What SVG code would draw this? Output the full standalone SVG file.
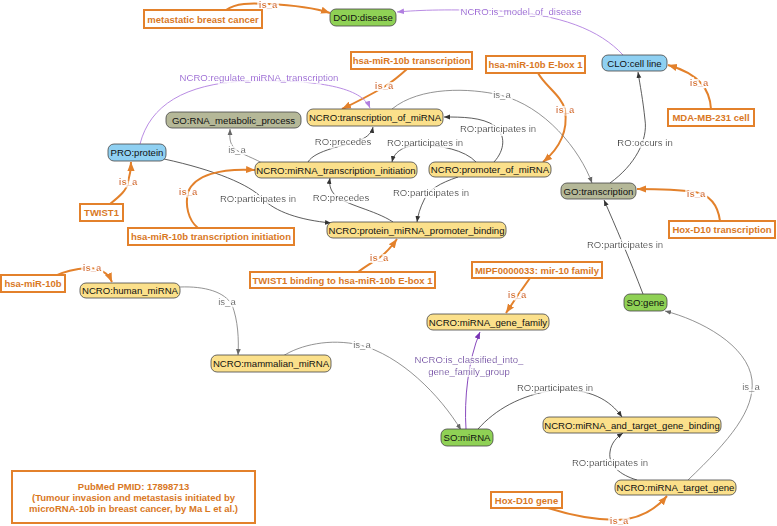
<svg xmlns="http://www.w3.org/2000/svg" width="777" height="526" viewBox="0 0 777 526">
<style>
text{font-family:"Liberation Sans",Arial,sans-serif}
.n{stroke:#444;stroke-width:0.8}
.y{fill:#fbe08b}
.g{fill:#8fd155}
.b{fill:#8fd0f2}
.k{fill:#b5b898}
.nt{font-size:9.6px;fill:#111;text-anchor:middle}
.o{fill:#fff;stroke:#e3812b;stroke-width:2}
.ot{font-size:9.5px;font-weight:bold;fill:#d9781f;text-anchor:middle}
.e{fill:none;stroke:#333;stroke-width:0.8}
.ei{fill:none;stroke:#777;stroke-width:0.8}
.eo{fill:none;stroke:#e3812b;stroke-width:2}
.ep{fill:none;stroke:#b17fe0;stroke-width:0.9}
.ed{fill:none;stroke:#7a35b5;stroke-width:0.9}
.lb,.li,.lo,.lp,.ld{font-size:9.6px;text-anchor:middle;filter:url(#halo)}
.lb{fill:#222}
.li{fill:#555}
.lo{font-size:9.5px;font-weight:bold;fill:#da7a22}
.lp{fill:#9a55d6}
.ld{fill:#7030a8}
</style>
<defs>
<filter id="halo" x="-20%" y="-50%" width="140%" height="200%">
<feMorphology in="SourceAlpha" operator="dilate" radius="2" result="d"/>
<feFlood flood-color="#ffffff"/>
<feComposite in2="d" operator="in" result="w"/>
<feMerge><feMergeNode in="w"/><feMergeNode in="SourceGraphic"/></feMerge>
</filter>
<marker id="ab" viewBox="0 0 10 10" refX="10" refY="5" markerWidth="6" markerHeight="6" orient="auto" markerUnits="userSpaceOnUse"><path d="M0,1 L10,5 L0,9 z" fill="#333"/></marker>
<marker id="ag" viewBox="0 0 10 10" refX="10" refY="5" markerWidth="6" markerHeight="6" orient="auto" markerUnits="userSpaceOnUse"><path d="M0,1 L10,5 L0,9 z" fill="#666"/></marker>
<marker id="ao" viewBox="0 0 10 10" refX="10" refY="5" markerWidth="9" markerHeight="9" orient="auto" markerUnits="userSpaceOnUse"><path d="M0,1 L10,5 L0,9 z" fill="#e3812b"/></marker>
<marker id="ap" viewBox="0 0 10 10" refX="10" refY="5" markerWidth="7" markerHeight="7" orient="auto" markerUnits="userSpaceOnUse"><path d="M0,1 L10,5 L0,9 z" fill="#b17fe0"/></marker>
<marker id="ad" viewBox="0 0 10 10" refX="10" refY="5" markerWidth="7" markerHeight="7" orient="auto" markerUnits="userSpaceOnUse"><path d="M0,1 L10,5 L0,9 z" fill="#7a35b5"/></marker>
</defs>
<rect width="777" height="526" fill="#fff"/>

<g id="connectors">
<path class="eo" d="M226 10 C236 3 250 3 268 4 C290 5 315 8 330 13" marker-end="url(#ao)"/>
<text class="lo" x="268" y="8">is_a</text>
<path class="ep" d="M623 55 C600 30 560 14 500 11 C450 9 420 10 397 12" marker-end="url(#ap)"/>
<text class="lp" x="521" y="15">NCRO:is_model_of_disease</text>
<path class="eo" d="M711 109 C710 90 700 74 668 65" marker-end="url(#ao)"/>
<text class="lo" x="699" y="86">is_a</text>
<path class="e" d="M610 183 C635 165 648 140 645 120 C643 100 640 85 638 72" marker-end="url(#ab)"/>
<text class="lb" x="645" y="146">RO:occurs in</text>
<path class="eo" d="M538 73 C545 86 562 96 565 110 C568 130 560 148 543 162" marker-end="url(#ao)"/>
<text class="lo" x="565" y="113">is_a</text>
<path class="eo" d="M407 69 Q395 80 384 87 Q365 98 342 109" marker-end="url(#ao)"/>
<text class="lo" x="384" y="89">is_a</text>
<path class="ep" d="M140 144 C150 105 185 84 245 81 C320 79 362 88 370 108" marker-end="url(#ap)"/>
<text class="lp" x="259" y="81">NCRO:regulate_miRNA_transcription</text>
<path class="ei" d="M392 109 C420 86 470 88 500 95 C545 106 580 150 592 183" marker-end="url(#ag)"/>
<text class="li" x="502" y="98">is_a</text>
<path class="e" d="M494 162 C505 150 506 135 495 126 C482 117 462 117 444 117" marker-end="url(#ab)"/>
<text class="lb" x="498" y="132">RO:participates in</text>
<path class="e" d="M308 162 C315 150 345 146 360 140 C368 137 372 132 373 127" marker-end="url(#ab)"/>
<text class="lb" x="343" y="145">RO:precedes</text>
<path class="e" d="M476 162 C465 150 440 145 420 145 C401 146 394 153 392 162" marker-end="url(#ab)"/>
<text class="lb" x="425" y="146">RO:participates in</text>
<path class="ei" d="M262 163 C250 156 236 153 232 145 C229 140 230 134 230 129" marker-end="url(#ag)"/>
<text class="li" x="237" y="153">is_a</text>
<path class="e" d="M164 159 C215 170 250 185 262 198 C275 212 300 220 331 223" marker-end="url(#ab)"/>
<text class="lb" x="258" y="202">RO:participates in</text>
<path class="e" d="M393 222 C375 210 345 205 335 195 C330 190 329 184 330 178" marker-end="url(#ab)"/>
<text class="lb" x="341" y="201">RO:precedes</text>
<path class="e" d="M458 177 C440 183 428 190 424 200 C420 208 418 215 417 222" marker-end="url(#ab)"/>
<text class="lb" x="431" y="196">RO:participates in</text>
<path class="eo" d="M110 204 C120 196 127 190 128 182 C130 175 131 168 131 162" marker-end="url(#ao)"/>
<text class="lo" x="128" y="185">is_a</text>
<path class="eo" d="M198 228 C188 220 185 205 188 192 C195 175 220 168 255 170" marker-end="url(#ao)"/>
<text class="lo" x="188" y="195">is_a</text>
<path class="eo" d="M358 272 C366 266 373 262 379 258 C386 253 392 246 397 239" marker-end="url(#ao)"/>
<text class="lo" x="379" y="261">is_a</text>
<path class="eo" d="M720 221 C718 205 710 195 695 192 C675 189 655 189 637 189" marker-end="url(#ao)"/>
<text class="lo" x="696" y="197">is_a</text>
<path class="e" d="M643 294 C630 260 615 225 604 200" marker-end="url(#ab)"/>
<text class="lb" x="625" y="248">RO:participates in</text>
<path class="eo" d="M530 278 L518 295 L506 313" marker-end="url(#ao)"/>
<text class="lo" x="517" y="298">is_a</text>
<path class="eo" d="M55 276 C65 271 75 269 88 268 C100 268 108 273 112 282" marker-end="url(#ao)"/>
<text class="lo" x="92" y="271">is_a</text>
<path class="ei" d="M180 287 C205 286 225 292 232 305 C238 320 239 340 238 355" marker-end="url(#ag)"/>
<text class="li" x="227" y="305">is_a</text>
<path class="ei" d="M283 356 C300 345 330 338 360 345 C400 355 440 395 461 430" marker-end="url(#ag)"/>
<text class="li" x="362" y="348">is_a</text>
<path class="ed" d="M466 429 C464 400 468 360 480 332" marker-end="url(#ad)"/>
<text class="ld" x="469" y="363">NCRO:is_classified_into_</text>
<text class="ld" x="469" y="375">gene_family_group</text>
<path class="e" d="M478 429 C495 410 520 395 555 390 C590 388 610 400 622 417" marker-end="url(#ab)"/>
<text class="lb" x="555" y="391">RO:participates in</text>
<path class="e" d="M637 480 C620 475 608 465 610 452 C611 443 617 437 623 433" marker-end="url(#ab)"/>
<text class="lb" x="610" y="466">RO:participates in</text>
<path class="ei" d="M688 480 C730 440 755 410 752 380 C748 345 700 320 665 311" marker-end="url(#ag)"/>
<text class="li" x="751" y="390">is_a</text>
<path class="eo" d="M548 508 C570 515 595 520 618 520 C640 519 655 510 667 496" marker-end="url(#ao)"/>
<text class="lo" x="619" y="524">is_a</text>
</g>

<g id="n-doid"><rect class="n g" x="330" y="9" width="66" height="17" rx="6"/><text class="nt" x="363" y="21">DOID:disease</text></g>
<g id="n-clo"><rect class="n b" x="602" y="55" width="65" height="16" rx="6"/><text class="nt" x="634.5" y="66.5">CLO:cell line</text></g>
<g id="n-gorna"><rect class="n k" x="166" y="112" width="135" height="16" rx="6"/><text class="nt" x="233.5" y="123.5">GO:RNA_metabolic_process</text></g>
<g id="n-tom"><rect class="n y" x="307" y="109" width="136" height="17" rx="6"/><text class="nt" x="375" y="121">NCRO:transcription_of_miRNA</text></g>
<g id="n-pro"><rect class="n b" x="108" y="144" width="58" height="17" rx="6"/><text class="nt" x="137" y="156">PRO:protein</text></g>
<g id="n-init"><rect class="n y" x="255" y="162" width="162" height="16" rx="6"/><text class="nt" x="336" y="173.5">NCRO:miRNA_transcription_initiation</text></g>
<g id="n-prom"><rect class="n y" x="429" y="162" width="122" height="15" rx="6"/><text class="nt" x="490" y="173">NCRO:promoter_of_miRNA</text></g>
<g id="n-gotr"><rect class="n k" x="561" y="183" width="75" height="16" rx="6"/><text class="nt" x="598.5" y="194.5">GO:transcription</text></g>
<g id="n-pmpb"><rect class="n y" x="327" y="222" width="179" height="16" rx="6"/><text class="nt" x="416.5" y="233.5">NCRO:protein_miRNA_promoter_binding</text></g>
<g id="n-sogene"><rect class="n g" x="624" y="294" width="43" height="17" rx="6"/><text class="nt" x="645.5" y="306">SO:gene</text></g>
<g id="n-human"><rect class="n y" x="80" y="283" width="100" height="15" rx="6"/><text class="nt" x="130" y="294">NCRO:human_miRNA</text></g>
<g id="n-family"><rect class="n y" x="427" y="314" width="122" height="16" rx="6"/><text class="nt" x="488" y="325.5">NCRO:miRNA_gene_family</text></g>
<g id="n-mammal"><rect class="n y" x="211" y="355" width="120" height="17" rx="6"/><text class="nt" x="271" y="367">NCRO:mammalian_miRNA</text></g>
<g id="n-somirna"><rect class="n g" x="441" y="429" width="52" height="17" rx="6"/><text class="nt" x="467" y="441">SO:miRNA</text></g>
<g id="n-mtgb"><rect class="n y" x="543" y="417" width="178" height="16" rx="6"/><text class="nt" x="632" y="428.5">NCRO:miRNA_and_target_gene_binding</text></g>
<g id="n-target"><rect class="n y" x="615" y="480" width="121" height="15" rx="6"/><text class="nt" x="675.5" y="491">NCRO:miRNA_target_gene</text></g>

<g id="i-mbc"><rect class="o" x="144" y="10" width="118" height="18"/><text class="ot" x="203" y="22.5">metastatic breast cancer</text></g>
<g id="i-tr"><rect class="o" x="351" y="52" width="121" height="17"/><text class="ot" x="411.5" y="64">hsa-miR-10b transcription</text></g>
<g id="i-ebox"><rect class="o" x="486" y="56" width="99" height="17"/><text class="ot" x="535.5" y="68">hsa-miR-10b E-box 1</text></g>
<g id="i-mda"><rect class="o" x="668" y="109" width="86" height="17"/><text class="ot" x="711" y="121">MDA-MB-231 cell</text></g>
<g id="i-twist"><rect class="o" x="80" y="204" width="43" height="17"/><text class="ot" x="101.5" y="216">TWIST1</text></g>
<g id="i-tri"><rect class="o" x="128" y="228" width="166" height="17"/><text class="ot" x="211" y="240">hsa-miR-10b transcription initiation</text></g>
<g id="i-hoxtr"><rect class="o" x="669" y="221" width="106" height="17"/><text class="ot" x="722" y="233">Hox-D10 transcription</text></g>
<g id="i-twb"><rect class="o" x="250" y="272" width="185" height="16"/><text class="ot" x="342.5" y="283.5">TWIST1 binding to hsa-miR-10b E-box 1</text></g>
<g id="i-mipf"><rect class="o" x="472" y="262" width="130" height="16"/><text class="ot" x="537" y="273.5">MIPF0000033: mir-10 family</text></g>
<g id="i-mir"><rect class="o" x="1" y="275" width="64" height="17"/><text class="ot" x="33" y="287">hsa-miR-10b</text></g>
<g id="i-hoxg"><rect class="o" x="491" y="492" width="71" height="16"/><text class="ot" x="526.5" y="503.5">Hox-D10 gene</text></g>
<g id="i-pubmed"><rect class="o" x="12" y="471" width="243" height="52"/>
<text class="ot" x="133.5" y="489.5">PubMed PMID: 17898713</text>
<text class="ot" x="133.5" y="500.5">(Tumour invasion and metastasis initiated by</text>
<text class="ot" x="133.5" y="511.5">microRNA-10b in breast cancer, by Ma L et al.)</text></g>
</svg>
